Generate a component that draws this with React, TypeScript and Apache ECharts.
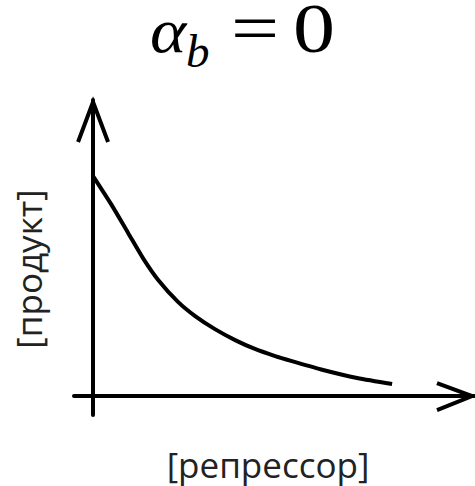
import React, { useEffect, useRef } from "react";
import * as echarts from "echarts";

const repressor = [0, 0.047, 0.092, 0.131, 0.171, 0.223, 0.268, 0.32, 0.373, 0.425, 0.478, 0.522, 0.604, 0.693, 0.785];
const product = [0.743, 0.649, 0.551, 0.466, 0.392, 0.318, 0.27, 0.226, 0.189, 0.159, 0.135, 0.118, 0.088, 0.061, 0.041];
const xRange = [-0.05, 1];
const yRange = [-0.064, 1];
const xLabel = "[репрессор]";
const yLabel = "[продукт]";

export default function App() {
  const ref = useRef<HTMLDivElement>(null);
  useEffect(() => {
    const chart = echarts.init(ref.current!, null, { renderer: "svg" });
    const ink = "#000";
    chart.setOption({
      animation: false,
      grid: { left: 74, right: 1, top: 100, bottom: 71 },
      xAxis: {
        type: "value",
        min: xRange[0],
        max: xRange[1],
        axisLine: { show: true, onZero: true, lineStyle: { color: ink, width: 4 } },
        axisTick: { show: false },
        axisLabel: { show: false },
        splitLine: { show: false },
      },
      yAxis: {
        type: "value",
        min: yRange[0],
        max: yRange[1],
        axisLine: { show: true, onZero: true, lineStyle: { color: ink, width: 4 } },
        axisTick: { show: false },
        axisLabel: { show: false },
        splitLine: { show: false },
      },
      series: [
        {
          type: "line",
          data: repressor.map((x, i) => [x, product[i]]),
          smooth: 0.25,
          symbol: "none",
          lineStyle: { color: ink, width: 4 },
        },
        {
          type: "custom",
          data: [[0]],
          silent: true,
          renderItem: (params: any, api: any) => {
            const top = api.coord([0, yRange[1]]);
            const right = api.coord([xRange[1], 0]);
            const style = { stroke: ink, lineWidth: 4, fill: "none", lineJoin: "miter" };
            return {
              type: "group",
              children: [
                {
                  type: "polyline",
                  shape: { points: [[top[0] - 15, top[1] + 42], [top[0], top[1] + 2], [top[0] + 15, top[1] + 42]] },
                  style,
                },
                {
                  type: "polyline",
                  shape: { points: [[right[0] - 37, right[1] - 13], [right[0] - 2, right[1]], [right[0] - 37, right[1] + 14]] },
                  style,
                },
              ],
            };
          },
        },
      ],
      graphic: [
        { type: "text", x: 150, y: 30, scaleX: 1.08, style: { text: "α", font: "italic 64px 'Liberation Serif'", fill: ink, verticalAlign: "middle", lineHeight: 40 } },
        { type: "text", x: 186, y: 51, style: { text: "b", font: "italic 47px 'Liberation Serif'", fill: ink, verticalAlign: "middle", lineHeight: 36 } },
        { type: "text", x: 231, y: 28, scaleX: 1.22, style: { text: "=", font: "70px 'Liberation Serif'", fill: ink, verticalAlign: "middle", lineHeight: 50 } },
        { type: "text", x: 293, y: 28, scaleX: 1.2, style: { text: "0", font: "70px 'Liberation Serif'", fill: ink, verticalAlign: "middle", lineHeight: 50 } },
        {
          type: "text",
          x: 268,
          y: 464,
          style: { text: xLabel, font: "35px 'Open Sans'", fill: "#222", align: "center", verticalAlign: "middle", lineHeight: 34 },
        },
        {
          type: "text",
          x: 28,
          y: 269,
          rotation: Math.PI / 2,
          style: { text: yLabel, font: "35px 'Open Sans'", fill: "#222", align: "center", verticalAlign: "middle", lineHeight: 36 },
        },
      ],
    });
    return () => chart.dispose();
  }, []);
  return <div ref={ref} style={{ width: 475, height: 486, position: "absolute", left: 0, top: 0 }} />;
}
